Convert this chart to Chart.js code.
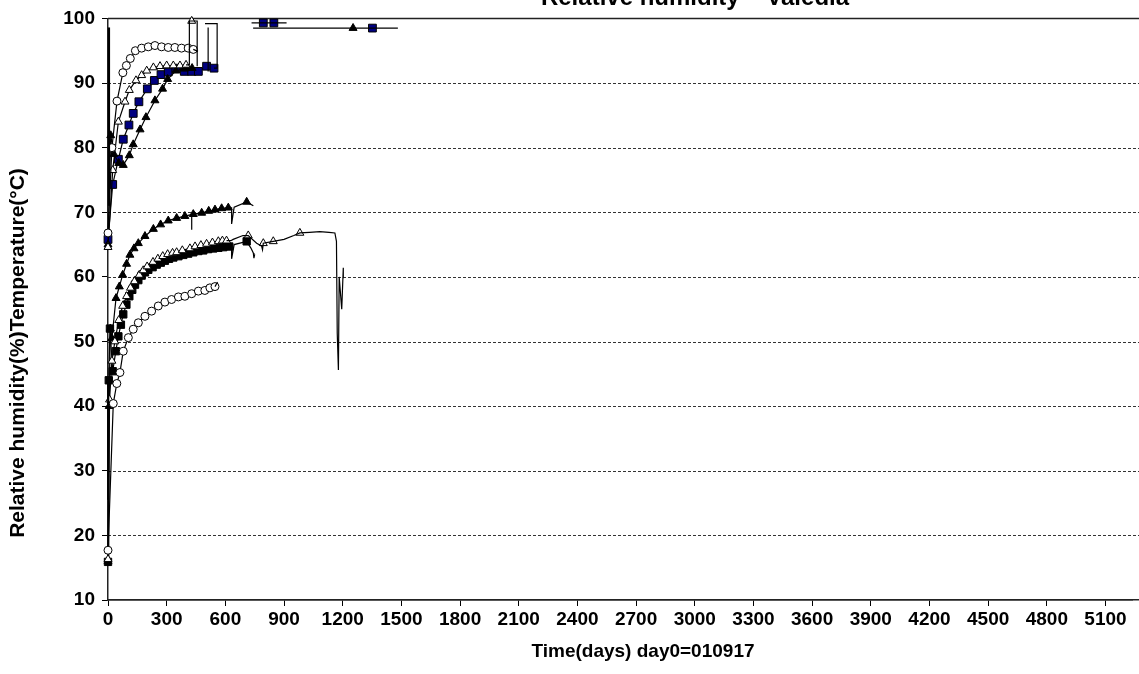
<!DOCTYPE html>
<html><head><meta charset="utf-8">
<script src="https://cdn.jsdelivr.net/npm/chart.js@4"></script>
<style>html,body{margin:0;padding:0;background:#fff;overflow:hidden}</style>
</head><body>
<canvas id="c" width="1139" height="674"></canvas>
<script>
// ---------- ticks ----------
const xTickValues = [0,300,600,900,1200,1500,1800,2100,2400,2700,3000,3300,3600,3900,4200,4500,4800,5100];
const yTickValues = [10,20,30,40,50,60,70,80,90,100];

// ---------- relative humidity series ----------
const rhCircleX = [0, 20, 46, 76, 94, 114, 140, 172, 206, 240, 274, 308, 342, 376, 410, 436];
const rhCircleY = [66.8, 80, 87.2, 91.6, 92.7, 93.8, 95.0, 95.4, 95.6, 95.8, 95.6, 95.5, 95.5, 95.4, 95.4, 95.2];

const rhOpenTriX = [0, 24, 53, 87, 109, 143, 172, 198, 232, 266, 300, 334, 368, 399];
const rhOpenTriY = [64.6, 76.5, 84, 87.1, 88.9, 90.4, 91.2, 91.9, 92.4, 92.6, 92.7, 92.7, 92.7, 92.8];

const rhSquareX = [0, 24, 53, 78, 107, 129, 158, 201, 237, 271, 308, 347, 390, 428, 462, 504, 542];
const rhSquareY = [65.8, 74.3, 78.2, 81.3, 83.5, 85.3, 87.1, 89.1, 90.4, 91.3, 91.7, 92.3, 91.8, 91.8, 91.8, 92.6, 92.3];

const rhFilledTriX = [0, 14, 30, 55, 78, 109, 129, 164, 194, 240, 279, 305, 347, 390, 430];
const rhFilledTriY = [65, 81.9, 79, 77.6, 77.3, 78.8, 80.5, 82.8, 84.7, 87.3, 89.1, 90.6, 91.9, 92.2, 92.3];

// ---------- temperature series ----------
const tFilledTriX = [0, 6, 12, 20, 41, 58, 75, 95, 112, 133, 155, 189, 232, 269, 308, 351, 393, 436, 479, 515, 547, 581, 615];
const tFilledTriY = [16, 40, 52, 50.5, 56.7, 58.5, 60.3, 62, 63.4, 64.4, 65.2, 66.3, 67.4, 68.1, 68.7, 69.1, 69.4, 69.7, 69.9, 70.2, 70.4, 70.6, 70.7];

const tFilledSqX = [0, 4, 10, 24, 40, 53, 66, 78, 94, 109, 124, 138, 155, 172, 189, 206, 228, 249, 270, 291, 312, 334, 360, 385, 410, 436, 462, 487, 512, 538, 564, 589, 620];
const tFilledSqY = [15.9, 44, 52, 45.4, 48.5, 50.8, 52.6, 54.2, 55.7, 57, 58, 58.8, 59.5, 60.2, 60.7, 61.1, 61.5, 61.9, 62.2, 62.5, 62.8, 63.0, 63.2, 63.4, 63.6, 63.8, 64.0, 64.1, 64.3, 64.4, 64.5, 64.6, 64.7];

const tOpenTriX = [0, 8, 20, 35, 55, 75, 95, 115, 135, 160, 180, 200, 230, 255, 280, 305, 330, 351, 380, 419, 445, 475, 504, 534, 564, 585, 606];
const tOpenTriY = [16.3, 41, 47, 50, 53.3, 55.5, 57, 58.3, 59.3, 60.3, 61, 61.6, 62.3, 62.8, 63.2, 63.5, 63.7, 63.8, 64.1, 64.4, 64.7, 64.9, 65.1, 65.3, 65.5, 65.6, 65.6];

const tCircleX = [0, 27, 45, 61, 78, 104, 129, 155, 189, 223, 257, 291, 325, 360, 393, 428, 462, 495, 521, 547];
const tCircleY = [17.7, 40.4, 43.5, 45.2, 48.5, 50.6, 51.9, 52.9, 53.9, 54.7, 55.5, 56.1, 56.5, 56.9, 57.0, 57.4, 57.8, 57.9, 58.3, 58.5];

// ---------- line-only traces (tails, spikes, brackets) ----------
const rhCircleEndX = [436, 460];            const rhCircleEndY = [95.2, 94.9];
const rhOpenTriRectX = [399, 416, 416, 456, 456]; const rhOpenTriRectY = [92.8, 92.8, 99.6, 99.6, 92.6];
const rhSquareBracketX = [542, 558, 558, 496];    const rhSquareBracketY = [92.3, 92.3, 99.2, 99.2];
const rhVerticalX = [512, 512];             const rhVerticalY = [91.8, 98.6];
const rhLateShortX = [734, 913];            const rhLateShortY = [99.3, 99.3];
const rhLateLongX = [742, 1482];            const rhLateLongY = [98.5, 98.5];
const rhStartSpikeX = [5, 5];               const rhStartSpikeY = [71, 98.6];
const tStartSpikeX = [1, 1];                const tStartSpikeY = [25.5, 44];
const tTriSpikeX = [428, 428];              const tTriSpikeY = [69.8, 67.3];
const tTriTailX = [615, 632, 632, 645, 709, 743];  const tTriTailY = [70.7, 70.7, 68.2, 70.8, 71.6, 71.0];
const tSqTailX = [620, 632, 632, 645, 709, 730, 743, 746, 750]; const tSqTailY = [64.7, 64.7, 62.8, 65.0, 65.5, 64.5, 63.7, 62.9, 63.5];
const tOpenTriTailX = [606, 628, 640, 690, 717, 760, 785, 790, 794, 845, 900, 950, 981, 1030, 1083, 1130, 1160, 1168, 1172, 1178, 1182, 1195, 1203, 1203];
const tOpenTriTailY = [65.6, 65.6, 65.8, 66.4, 66.4, 65.2, 64.8, 64.2, 65.2, 65.5, 65.8, 66.4, 66.8, 66.9, 67.0, 66.9, 66.8, 65.5, 51.3, 45.6, 60, 55, 61.4, 59.8];
const tCircleEndX = [547, 560];             const tCircleEndY = [58.5, 59.2];

// ---------- isolated markers ----------
const extraOpenTriX = [428, 717, 794, 845, 981];   const extraOpenTriY = [99.6, 66.4, 65.2, 65.5, 66.8];
const extraFilledTriX = [1253, 709];               const extraFilledTriY = [98.5, 71.6];
const extraBlueSqX = [794, 848, 1352];             const extraBlueSqY = [99.3, 99.3, 98.5];
const extraFilledSqX = [709];                      const extraFilledSqY = [65.5];

const FONT = "'Liberation Sans', Arial, sans-serif";
const BLUE = '#000080';

function pts(xs, ys) { return xs.map((x, i) => ({ x: x, y: ys[i] })); }
function markers(xs, ys, style, fill, r, line) {
  return {
    data: pts(xs, ys), showLine: line, borderColor: '#000', borderWidth: 1.2,
    pointStyle: style, pointRadius: r, pointBackgroundColor: fill,
    pointBorderColor: '#000', pointBorderWidth: 1, tension: 0, clip: false
  };
}
function trace(xs, ys, w) {
  return { data: pts(xs, ys), showLine: true, borderColor: '#000', borderWidth: w || 1.2,
    pointRadius: 0, tension: 0, clip: false };
}

const datasets = [
  trace(rhCircleEndX, rhCircleEndY), trace(rhOpenTriRectX, rhOpenTriRectY),
  trace(rhSquareBracketX, rhSquareBracketY), trace(rhVerticalX, rhVerticalY),
  trace(rhLateShortX, rhLateShortY), trace(rhLateLongX, rhLateLongY),
  trace(rhStartSpikeX, rhStartSpikeY, 2.2), trace(tStartSpikeX, tStartSpikeY, 2.2),
  trace(tTriSpikeX, tTriSpikeY), trace(tTriTailX, tTriTailY), trace(tSqTailX, tSqTailY),
  trace(tOpenTriTailX, tOpenTriTailY), trace(tCircleEndX, tCircleEndY),
  markers(rhCircleX, rhCircleY, 'circle', '#fff', 4, true),
  markers(rhOpenTriX, rhOpenTriY, 'triangle', '#fff', 4.6, true),
  markers(rhFilledTriX, rhFilledTriY, 'triangle', '#000', 4.6, true),
  markers(rhSquareX, rhSquareY, 'rect', BLUE, 5.5, true),
  markers(tCircleX, tCircleY, 'circle', '#fff', 4, true),
  markers(tOpenTriX, tOpenTriY, 'triangle', '#fff', 4.6, true),
  markers(tFilledSqX, tFilledSqY, 'rect', '#000', 5.2, true),
  markers(tFilledTriX, tFilledTriY, 'triangle', '#000', 4.6, true),
  markers(extraOpenTriX, extraOpenTriY, 'triangle', '#fff', 4.6, false),
  markers(extraFilledTriX, extraFilledTriY, 'triangle', '#000', 4.6, false),
  markers(extraBlueSqX, extraBlueSqY, 'rect', BLUE, 5.5, false),
  markers(extraFilledSqX, extraFilledSqY, 'rect', '#000', 5.2, false)
];

// horizontal grid (dashed), the solid top frame line and the x-axis line run to the canvas edge
const gridPlugin = {
  id: 'gridPlugin',
  beforeDatasetsDraw(chart) {
    const { ctx, chartArea: a, scales: { y } } = chart;
    const right = chart.width;
    ctx.save();
    yTickValues.forEach((v, i) => {
      ctx.beginPath();
      if (i === 0) {
        const py = Math.round(a.bottom - 0.75) + 0.75;
        ctx.setLineDash([]); ctx.strokeStyle = '#222'; ctx.lineWidth = 1.5;
        ctx.moveTo(a.left, py); ctx.lineTo(right, py);
      } else if (i === yTickValues.length - 1) {
        const py = Math.round(y.getPixelForValue(v)) + 0.5;
        ctx.setLineDash([]); ctx.strokeStyle = '#222'; ctx.lineWidth = 1.5;
        ctx.moveTo(a.left, py); ctx.lineTo(right, py);
      } else {
        const py = Math.round(y.getPixelForValue(v)) + 0.5;
        ctx.setLineDash([3, 2]); ctx.strokeStyle = '#333'; ctx.lineWidth = 1.2;
        ctx.moveTo(a.left, py); ctx.lineTo(right, py);
      }
      ctx.stroke();
    });
    ctx.restore();
  }
};

const textPlugin = {
  id: 'textPlugin',
  afterDraw(chart) {
    const { ctx } = chart;
    ctx.save();
    ctx.fillStyle = '#000';
    ctx.textAlign = 'center';
    ctx.textBaseline = 'alphabetic';
    ctx.font = 'bold 24px ' + FONT;
    ctx.fillText('Relative humidity \u2013 Valedia', 695, 5);
    ctx.font = 'bold 19px ' + FONT;
    ctx.textBaseline = 'middle';
    ctx.fillText('Time(days) day0=010917', 643, 652);
    ctx.font = 'bold 21px ' + FONT;
    ctx.translate(18, 353);
    ctx.rotate(-Math.PI / 2);
    ctx.fillText('Relative humidity(%)Temperature(\u00B0C)', 0, 0);
    ctx.restore();
  }
};

new Chart(document.getElementById('c'), {
  type: 'scatter',
  data: { datasets: datasets },
  options: {
    responsive: false, animation: false, devicePixelRatio: 1, events: [],
    layout: { padding: { top: 16, right: 0, left: 0, bottom: 0 } },
    plugins: { legend: { display: false }, tooltip: { enabled: false }, title: { display: false } },
    scales: {
      x: {
        type: 'linear', min: 0, max: 5238,
        afterBuildTicks: s => { s.ticks = xTickValues.map(v => ({ value: v })); },
        afterFit: s => { s.height = 74; },
        grid: { drawOnChartArea: false, drawTicks: true, tickLength: 6, color: '#000', tickWidth: 1 },
        border: { color: '#222', width: 1.5 },
        ticks: { color: '#000', font: { family: FONT, size: 19, weight: 'bold' }, padding: 2, maxRotation: 0, autoSkip: false,
                 callback: v => String(v) }
      },
      y: {
        type: 'linear', min: 10, max: 100,
        afterBuildTicks: s => { s.ticks = yTickValues.map(v => ({ value: v })); },
        afterFit: s => { s.width = 108; },
        grid: { drawOnChartArea: false, drawTicks: true, tickLength: 6, color: '#000', tickWidth: 1 },
        border: { color: '#222', width: 1.5 },
        ticks: { color: '#000', font: { family: FONT, size: 19, weight: 'bold' }, padding: 7, callback: v => String(v) }
      }
    }
  },
  plugins: [gridPlugin, textPlugin]
});
</script>
</body></html>
